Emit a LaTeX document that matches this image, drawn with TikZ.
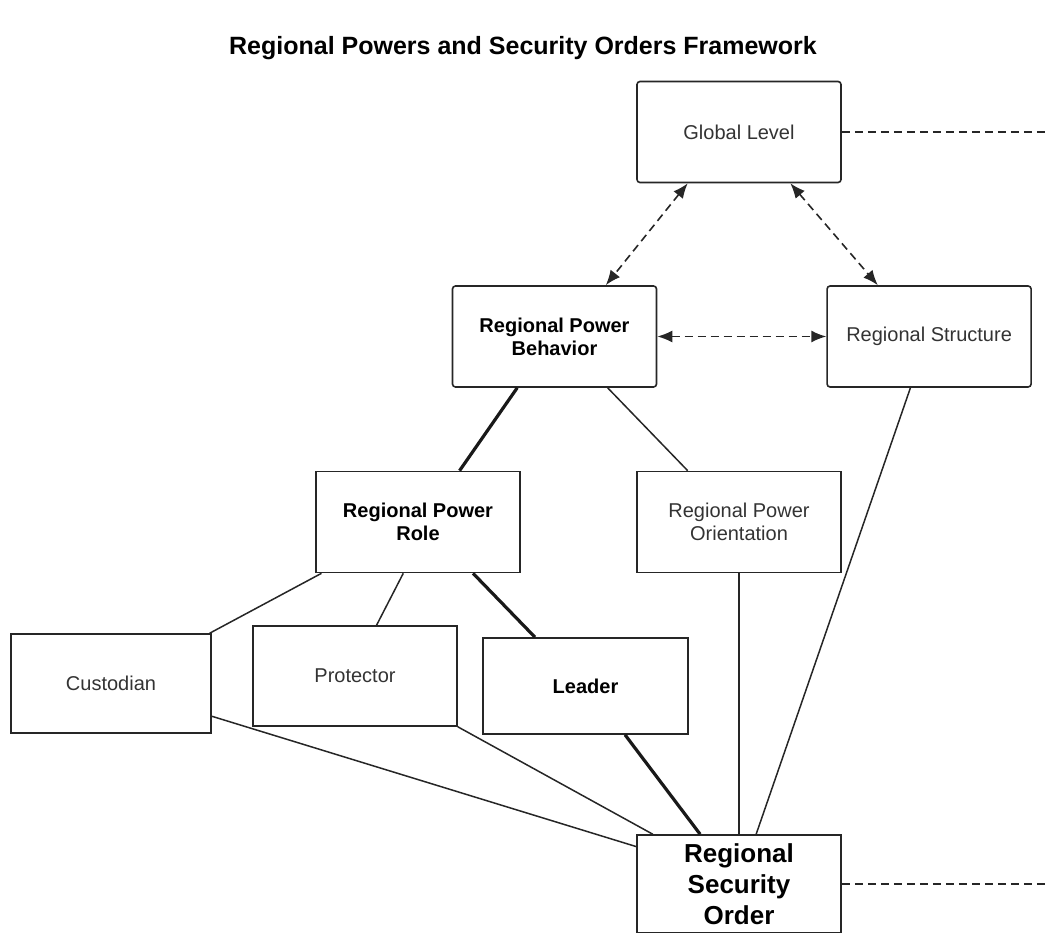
\documentclass[tikz,border=0pt]{standalone}
\usepackage{fontspec}
\setmainfont{Liberation Sans}
\usetikzlibrary{arrows.meta,positioning}

\begin{document}
\begin{tikzpicture}[x=1pt,y=1pt]
		\tikzstyle{box}=[rectangle, draw=black!85, line width=1.6pt, minimum width=204pt, minimum height=101pt, inner sep=0pt, align=center, text=black!80, font=\fontsize{20}{23}\selectfont]
		\tikzstyle{rbox}=[box, rounded corners=3pt]
		\tikzstyle{key}=[text=black, font=\fontsize{20}{23}\selectfont\bfseries]
		\tikzstyle{connect}=[line width=1.5pt, draw=black!85]
		\tikzstyle{strong}=[line width=3.2pt, draw=black!90]
		\tikzstyle{link}=[line width=1.6pt, draw=black!85, dash pattern=on 8pt off 5pt, {Latex[length=15pt,width=12pt]}-{Latex[length=15pt,width=12pt]}]
		\tikzstyle{outer}=[line width=1.5pt, draw=black!85, dash pattern=on 8pt off 5pt]
		\clip (0,0) rectangle (1046,932);
		\node[font=\fontsize{25}{29}\selectfont\bfseries] (title) at (523,884) {Regional Powers and Security Orders Framework};
		
		\node[rbox]                  (global)      at (739,800)   {Global Level};
		\node[rbox, key]             (behavior)    at (554.5,595.5) {Regional Power\\Behavior};
		\node[rbox]                  (structure)   [right=169pt of behavior] {Regional Structure};
		\node[box, key]              (role)        at (418,410)   {Regional Power\\Role};
		\node[box]                   (orientation) at (739,410)   {Regional Power\\Orientation};
		
		\node[box, minimum width=200pt, minimum height=99pt] (custodian) at (111,248.5) {Custodian};
		\node[box, minimum height=100pt]                     (protector) at (355,256)   {Protector};
		\node[box, key, minimum width=205pt, minimum height=96pt] (leader) at (585.5,246) {Leader};
		\node[box, minimum height=98pt, text=black, font=\fontsize{26}{31}\selectfont\bfseries] (order) at (739,48) {Regional\\Security\\Order};
		
		\coordinate (globalout) at (1046,800);
		\coordinate (orderout)  at (1046,50);
		
		\path 
		(global.east) edge [outer] (globalout)
		(order.east) edge [outer] (order.east -| orderout)
		
		(global.225) edge [link] (behavior.45)
		(global.315) edge [link] (structure.135)
		(behavior.east) edge [link] (structure.west)
		
		(behavior.234) edge [strong] (role.51)
		(behavior.316) edge [connect] (orientation.135)
		(structure.250) edge [connect] (order.71)
		(orientation.south) edge [connect] (order.north)
		
		(role.208) edge [connect] (custodian.27)
		(role.254) edge [connect] (protector.67)
		(role.317) edge [strong] (leader.136)
		(leader.309) edge [strong] (order.128)
		(custodian.342) edge [connect] (order.160)
		(protector.south east) edge [connect] (order.150)
		;
		
\end{tikzpicture}
\end{document}
